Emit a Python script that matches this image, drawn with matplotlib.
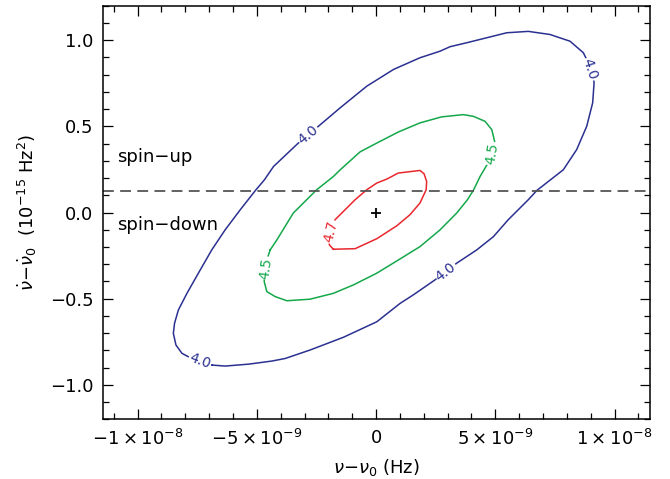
import numpy as np
import matplotlib
matplotlib.use("Agg")
import matplotlib.pyplot as plt
from matplotlib.ticker import MultipleLocator, FuncFormatter

plt.rcParams['font.family'] = ['DejaVu Sans']
plt.rcParams['mathtext.fontset'] = 'dejavusans'
plt.rcParams['axes.unicode_minus'] = True

# contour traces, x in units of 1e-9 Hz, y in units of 1e-15 Hz^2
blue_x = [-6.89, -6.33, -5.35, -4.37, -3.81, -2.77, -1.37, 0.03, 1.01, 1.56, 2.47, 3.38,
          4.22, 4.92, 5.54, 6.38, 6.74, 7.85, 8.41, 8.83, 9.08, 9.14, 9.02, 8.76, 8.69,
          8.13, 7.29, 6.38, 5.48, 3.80, 3.10, 2.68, 1.84, 0.73, -0.39, -1.51, -2.42,
          -3.26, -4.30, -4.68, -5.07, -5.70, -6.33, -6.89, -7.45, -7.93, -8.29, -8.45,
          -8.50, -8.39, -8.14, -7.87, -7.38]
blue_y = [-0.885, -0.891, -0.880, -0.862, -0.847, -0.798, -0.724, -0.634, -0.527, -0.478,
          -0.391, -0.294, -0.217, -0.140, -0.042, 0.074, 0.128, 0.248, 0.365, 0.500,
          0.636, 0.752, 0.840, 0.907, 0.927, 0.994, 1.033, 1.051, 1.043, 0.985, 0.962,
          0.936, 0.898, 0.830, 0.733, 0.607, 0.500, 0.403, 0.267, 0.190, 0.126, 0.015,
          -0.101, -0.217, -0.352, -0.469, -0.566, -0.643, -0.701, -0.769, -0.817,
          -0.837, -0.862]

green_x = [-4.44, -4.58, -4.67, -4.69, -4.58, -4.23, -3.74, -2.77, -1.79, -0.95, 0.03,
           1.01, 1.84, 2.68, 3.38, 3.83, 4.08, 4.36, 4.65, 4.86, 4.97, 4.85, 4.57, 4.08,
           3.66, 2.75, 1.84, 0.93, 0.03, -0.67, -1.51, -1.79, -2.49, -3.47, -4.16]
green_y = [-0.217, -0.275, -0.333, -0.401, -0.459, -0.488, -0.512, -0.503, -0.469, -0.420,
           -0.352, -0.269, -0.198, -0.101, -0.003, 0.074, 0.129, 0.209, 0.277, 0.347,
           0.413, 0.481, 0.529, 0.558, 0.568, 0.555, 0.520, 0.467, 0.403, 0.352, 0.247,
           0.209, 0.132, -0.003, -0.159]

red_x = [-1.79, -1.96, -1.93, -1.72, -1.30, -0.88, -0.39, 0.03, 0.45, 0.93, 1.84, 2.01,
         2.12, 2.10, 1.84, 1.42, 0.87, 0.03, -0.88]
red_y = [-0.213, -0.188, -0.130, -0.042, 0.016, 0.074, 0.132, 0.171, 0.194, 0.229, 0.244,
         0.225, 0.180, 0.132, 0.055, -0.013, -0.077, -0.152, -0.210]

levels = [4.0, 4.5, 4.7]
colors = ['#2b3190', '#14a84a', '#e8282e']

# where each level's value is written: (x, y, rotation)
blue_labels = [(-2.85, 0.452, 40), (8.95, 0.830, -71), (2.93, -0.343, 38), (-7.38, -0.860, -20)]
green_labels = [(4.88, 0.341, 81), (-4.62, -0.323, 82)]
red_labels = [(-1.89, -0.112, 77)]

spin_line = 0.126
best_fit = (0.0, 0.0)

xticks = [-1e-8, -5e-9, 0, 5e-9, 1e-8]
xtick_labels = [r'$-1\times10^{-8}$', r'$-5\times10^{-9}$', '0',
                r'$5\times10^{-9}$', r'$1\times10^{-8}$']

fig = plt.figure(figsize=(6.70, 4.79), dpi=100)
ax = fig.add_axes([0.1537, 0.1246, 0.8163, 0.8635])

traces = [(blue_x, blue_y, blue_labels), (green_x, green_y, green_labels),
          (red_x, red_y, red_labels)]
for (xs, ys, labs), lev, c in zip(traces, levels, colors):
    xs = np.array(xs + xs[:1]) * 1e-9
    ys = np.array(ys + ys[:1])
    ax.plot(xs, ys, color=c, lw=1.1)
    for lx, ly, rot in labs:
        ax.text(lx * 1e-9, ly, '%.1f' % lev, color=c, fontsize=10, rotation=rot,
                ha='center', va='center', rotation_mode='anchor',
                bbox=dict(facecolor='white', edgecolor='none', pad=0.6))

ax.axhline(spin_line, color='#555555', lw=1.3, dashes=(6, 3.5))
ax.plot([best_fit[0]], [best_fit[1]], marker='+', color='black', ms=7, mew=1.3)

ax.text(-10.86e-9, 0.324, 'spin\u2212up', fontsize=13, va='center', ha='left')
ax.text(-10.86e-9, -0.072, 'spin\u2212down', fontsize=13, va='center', ha='left')

ax.set_xlim(-1.145e-8, 1.148e-8)
ax.set_ylim(-1.2, 1.2)
ax.set_xticks(xticks)
ax.set_xticklabels(xtick_labels)
ax.xaxis.set_minor_locator(MultipleLocator(1e-9))
ax.yaxis.set_major_locator(MultipleLocator(0.5))
ax.yaxis.set_minor_locator(MultipleLocator(0.1))
ax.yaxis.set_major_formatter(FuncFormatter(lambda v, p: ('%.1f' % v).replace('-', '\u2212')))

ax.tick_params(which='both', direction='in', top=True, right=True, labelsize=13, width=0.9)
ax.tick_params(which='major', length=7.5, pad=7)
ax.tick_params(which='minor', length=4)
for s in ax.spines.values():
    s.set_linewidth(1.1)

ax.set_xlabel(r'$\nu{-}\nu_0$ (Hz)', fontsize=13, labelpad=6)
ax.set_ylabel(r'$\dot{\nu}{-}\dot{\nu}_0$  (10$^{-15}$ Hz$^{2}$)', fontsize=13, labelpad=8)

fig.savefig('out.png', dpi=100)
